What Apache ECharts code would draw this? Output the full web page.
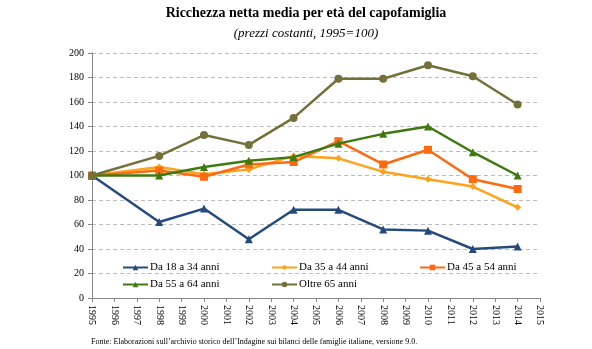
<!DOCTYPE html>
<html><head><meta charset="utf-8">
<script src="https://cdn.jsdelivr.net/npm/echarts@6/dist/echarts.min.js"></script>
<style>html,body{margin:0;padding:0;background:#fff}#c{width:592px;height:349px}</style>
</head><body><div id="c"></div>
<script>
const years = [1995, 1998, 2000, 2002, 2004, 2006, 2008, 2010, 2012, 2014];
const seriesNames = ['Da 18 a 34 anni', 'Da 35 a 44 anni', 'Da 45 a 54 anni', 'Da 55 a 64 anni', 'Oltre 65 anni'];
const age18_34 = [100, 62, 73, 48, 72, 72, 56, 55, 40, 42];
const age35_44 = [100, 107, 101, 105, 116, 114, 103, 97, 91, 74];
const age45_54 = [100, 104, 99, 109, 111, 128, 109, 121, 97, 89];
const age55_64 = [100, 100, 107, 112, 115, 126, 134, 140, 119, 100];
const over65 = [100, 116, 133, 125, 147, 179, 179, 190, 181, 158];
const yTicks = [0, 20, 40, 60, 80, 100, 120, 140, 160, 180, 200];
const titleText = 'Ricchezza netta media per età del capofamiglia';
const subtitleText = '(prezzi costanti, 1995=100)';
const sourceText = 'Fonte: Elaborazioni sull\u2019archivio storico dell\u2019Indagine sui bilanci delle famiglie italiane, versione 9.0.';

const allValues = [age18_34, age35_44, age45_54, age55_64, over65];
const colors = ['#254b7c', '#ffa21c', '#ff6a10', '#3f7a10', '#74703a'];
const symbols = ['triangle', 'diamond', 'rect', 'triangle', 'circle'];
const symbolSizes = [8, 7, 8, 8, 8];
const serif = '"Liberation Serif", "DejaVu Serif", serif';

const chart = echarts.init(document.getElementById('c'), null, {renderer: 'canvas'});
const series = seriesNames.map((n, i) => ({
  name: n, type: 'line',
  data: years.map((y, j) => [y, allValues[i][j]]),
  symbol: symbols[i], symbolSize: symbolSizes[i],
  lineStyle: {color: colors[i], width: 2.5},
  itemStyle: {color: colors[i]},
  z: 2 + i,
  animation: false
}));
const legendPos = [[122, 262], [271, 262], [419, 262], [122, 279], [271, 279]];
const legends = seriesNames.map((n, i) => ({
  data: [n], left: legendPos[i][0], top: legendPos[i][1],
  itemWidth: 25, itemHeight: 7, itemGap: 0,
  textStyle: {fontFamily: serif, fontSize: 11, color: '#000', padding: [0, 0, 0, -3]},
  padding: 0, selectedMode: false
}));
chart.setOption({
  backgroundColor: '#fff',
  animation: false,
  title: [
    {text: titleText, left: 306, top: 6, textAlign: 'center', padding: 0,
     textStyle: {fontFamily: serif, fontSize: 14, fontWeight: 'bold', color: '#000'}},
    {text: subtitleText, left: 306, top: 27, textAlign: 'center', padding: 0,
     textStyle: {fontFamily: serif, fontSize: 13, fontStyle: 'italic', fontWeight: 'normal', color: '#000'}},
    {text: sourceText, left: 91, top: 338, padding: 0,
     textStyle: {fontFamily: serif, fontSize: 8, fontWeight: 'normal', color: '#000'}}
  ],
  legend: legends,
  grid: {left: 92, right: 52, top: 53, bottom: 51},
  xAxis: {
    type: 'value', min: 1995, max: 2015, interval: 1,
    axisLine: {lineStyle: {color: '#888', width: 1}},
    axisTick: {show: true, length: 4, lineStyle: {color: '#888'}},
    axisLabel: {rotate: -90, fontFamily: serif, fontSize: 10, color: '#000', margin: 7,
      formatter: v => String(v)},
    splitLine: {show: false}
  },
  yAxis: {
    type: 'value', min: 0, max: 200, interval: 20,
    axisLine: {show: true, lineStyle: {color: '#888', width: 1}},
    axisTick: {show: true, length: 4, lineStyle: {color: '#888'}},
    axisLabel: {fontFamily: serif, fontSize: 10, color: '#000', margin: 8,
      formatter: v => yTicks.includes(v) ? String(v) : ''},
    splitLine: {show: true, lineStyle: {color: '#bbb', type: [4, 3], width: 1}}
  },
  series: series
});
</script></body></html>
